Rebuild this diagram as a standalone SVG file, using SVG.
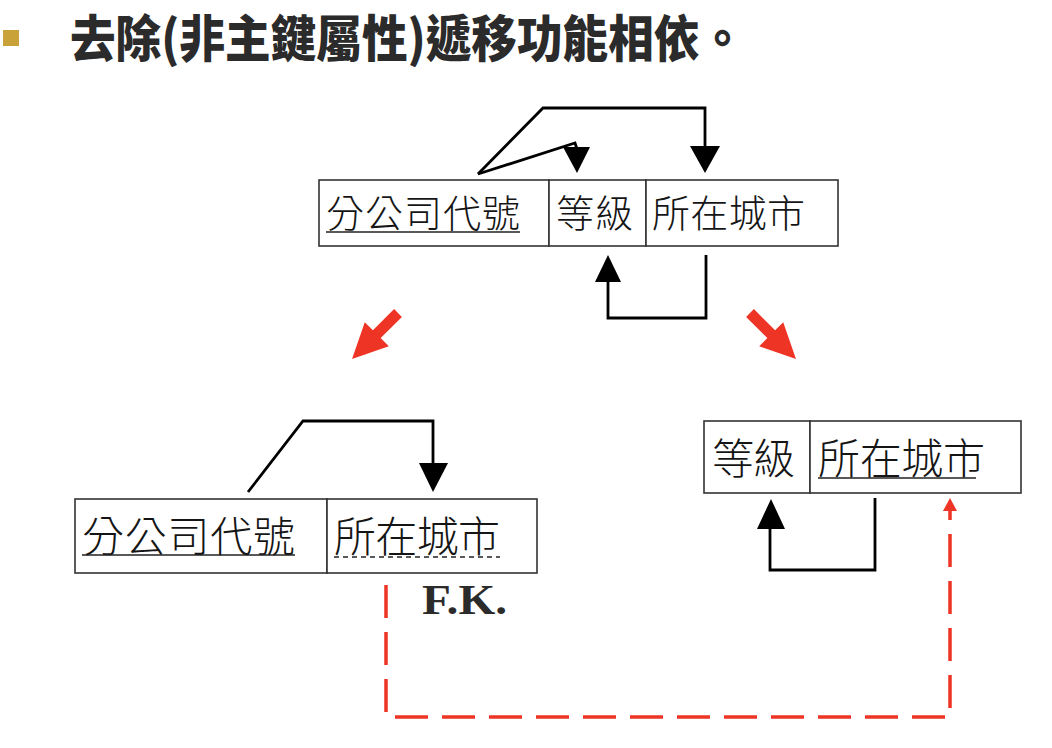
<svg xmlns="http://www.w3.org/2000/svg" width="1052" height="748" viewBox="0 0 1052 748">
<style>
.cell{fill:#fff;stroke:#333;stroke-width:1.6}
.t{font-family:"Noto Sans CJK TC","Noto Sans CJK SC",sans-serif;fill:#151515;font-weight:300}
.t38{font-size:38px}
.t42{font-size:42px}
.ul{stroke:#222;stroke-width:1.5;fill:none}
.dul{stroke:#222;stroke-width:1.5;fill:none;stroke-dasharray:5 4}
.ln{fill:none;stroke:#000;stroke-width:2.8;stroke-linejoin:miter}
.hd{fill:#000}
.red{fill:#EE3424}
.rd{fill:none;stroke:#EE3424;stroke-width:3.5;stroke-dasharray:33 14}
.title{font-family:"Noto Sans CJK TC","Noto Sans CJK SC",sans-serif;font-weight:900;font-size:50px;fill:#2b2b2b}
.fk{font-family:"Liberation Serif",serif;font-weight:700;font-size:42px;fill:#2b2b2b}
</style>
<g id="title">
<rect x="3" y="30" width="16" height="16" fill="#C9A23A"/>
<text class="title" x="70" y="57" textLength="675" lengthAdjust="spacingAndGlyphs">去除(非主鍵屬性)遞移功能相依。</text>
</g>
<g id="table-top">
<rect class="cell" x="319" y="180" width="230" height="66"/>
<rect class="cell" x="549" y="180" width="97" height="66"/>
<rect class="cell" x="646" y="180" width="192" height="66"/>
<text class="t t38" x="326" y="227" textLength="194" lengthAdjust="spacing">分公司代號</text>
<line class="ul" x1="326" y1="232" x2="520" y2="232"/>
<text class="t t38" x="556" y="227" textLength="77" lengthAdjust="spacing">等級</text>
<text class="t t38" x="652" y="227" textLength="153" lengthAdjust="spacing">所在城市</text>
</g>
<g id="table-left">
<rect class="cell" x="75" y="499" width="252" height="74"/>
<rect class="cell" x="327" y="499" width="210" height="74"/>
<text class="t t42" x="82" y="552" textLength="213" lengthAdjust="spacing">分公司代號</text>
<line class="ul" x1="82" y1="555" x2="295" y2="555"/>
<text class="t t42" x="334" y="552" textLength="166" lengthAdjust="spacing">所在城市</text>
<line class="dul" x1="334" y1="557" x2="500" y2="557"/>
<text class="fk" x="422" y="614" textLength="85" lengthAdjust="spacingAndGlyphs">F.K.</text>
</g>
<g id="table-right">
<rect class="cell" x="704" y="421" width="106" height="72"/>
<rect class="cell" x="810" y="421" width="211" height="72"/>
<text class="t t42" x="712" y="474" textLength="83" lengthAdjust="spacing">等級</text>
<text class="t t42" x="818" y="474" textLength="167" lengthAdjust="spacing">所在城市</text>
<line class="ul" x1="818" y1="478" x2="976" y2="478"/>
</g>
<g id="connectors">
<polyline class="ln" points="478,174 543,108 705,108 705,148"/>
<polygon class="hd" points="690,146 720,146 705,173"/>
<polyline class="ln" points="478,174 575,143 577,149"/>
<polygon class="hd" points="563,147 590,147 577,173"/>
<polyline class="ln" points="706,255 706,318 608,318 608,281"/>
<polygon class="hd" points="595,282 621,282 608,255"/>
<polyline class="ln" points="248,492 303,421 433,421 433,464"/>
<polygon class="hd" points="419,463 448,463 433,492"/>
<polyline class="ln" points="875,498 875,570 770,570 770,528"/>
<polygon class="hd" points="757,529 785,529 771,499"/>
<polyline class="rd" points="386,585 386,717 950,717 950,510"/>
<polygon class="red" points="943,511 957,511 950,498"/>
<polygon class="red" transform="translate(398,313) rotate(135)" points="0,-5.5 30,-5.5 30,-17 65,0 30,17 30,5.5 0,5.5"/>
<polygon class="red" transform="translate(750,313) rotate(45)" points="0,-5.5 30,-5.5 30,-17 65,0 30,17 30,5.5 0,5.5"/>
</g>
</svg>
